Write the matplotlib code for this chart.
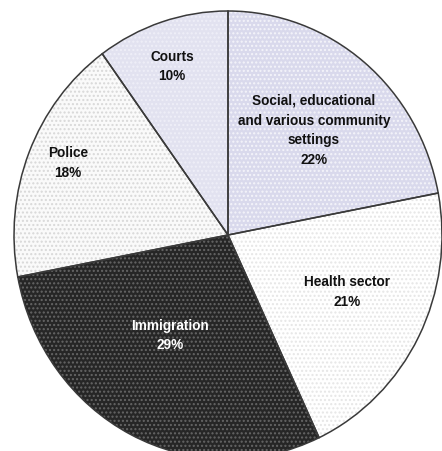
import matplotlib
matplotlib.use("Agg")
import matplotlib.pyplot as plt

categories = ["Social, educational\nand various community\nsettings", "Health sector",
              "Immigration", "Police", "Courts"]
values = [22, 21, 29, 18, 10]
face_colors = ["#D9D9EC", "#FFFFFF", "#262626", "#FAFAFA", "#E2E2F0"]
hatch_colors = ["#F4F4FA", "#E6E6E6", "#666666", "#D8D8D8", "#EFEFF8"]
hatches = ["....", "....", "....", "....", "...."]
text_colors = ["#111111", "#111111", "#FFFFFF", "#111111", "#111111"]
label_pos = [(0.402, 0.471), (0.556, -0.25), (-0.271, -0.444), (-0.748, 0.326), (-0.262, 0.757)]

plt.rcParams['font.family'] = ['Liberation Sans', 'DejaVu Sans']
fig = plt.figure(figsize=(4.42, 4.52), dpi=100)
ax = fig.add_axes([14/442, (452-460)/452, 428/442, 448/452])

wedges, _ = ax.pie(values, startangle=90, counterclock=False, radius=1,
                   colors=face_colors,
                   wedgeprops=dict(linewidth=0))
for w, hc, h in zip(wedges, hatch_colors, hatches):
    w.set_hatch(h)
    w.set_edgecolor(hc)
    w.set_linewidth(0)

ax.pie(values, startangle=90, counterclock=False, radius=1,
       colors=["none"] * len(values),
       wedgeprops=dict(linewidth=1.1, edgecolor="#3a3a3a", fill=False))

for cat, v, (x, y), tc in zip(categories, values, label_pos, text_colors):
    ax.text(x, y, f"{cat}\n{v}%", ha="center", va="center", color=tc,
            fontsize=9.8, fontweight="bold", linespacing=1.52)

ax.set_aspect('auto')
ax.set_xlim(-1, 1)
ax.set_ylim(-1, 1)
ax.axis('off')
fig.savefig("out.png", dpi=100)
